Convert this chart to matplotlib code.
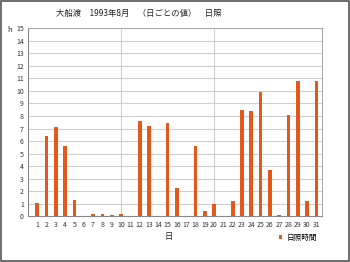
import numpy as np
import matplotlib as mpl
mpl.use('Agg')
import matplotlib.pyplot as plt
from matplotlib.patches import Rectangle

plt.rcParams['font.family'] = ['Noto Sans CJK JP', 'DejaVu Sans']

# 大船渡 1993年8月 日照時間 (h)
days = list(range(1, 32))
sunshine = [1.1, 6.4, 7.1, 5.6, 1.3, 0.0, 0.2, 0.2, 0.1, 0.2,
            0.0, 7.6, 7.2, 0.0, 7.4, 2.3, 0.0, 5.6, 0.4, 1.0,
            0.0, 1.2, 8.5, 8.4, 9.9, 3.7, 0.1, 8.1, 10.8, 1.2, 10.8]
yticks = list(range(0, 16))

bar_color = '#e4581c'
grid_color = '#cfcfcf'

fig = plt.figure(figsize=(3.5, 2.62), dpi=100)
ax = fig.add_axes([0.08, 0.174, 0.84, 0.719])

ax.bar(days, sunshine, width=0.4, color=bar_color, zorder=3, label='日照時間')

ax.set_xlim(0, 31.6)
ax.set_ylim(0, 15)
ax.set_yticks(yticks)
ax.set_xticks(days)
ax.tick_params(axis='both', length=0, labelsize=5, pad=3, colors='#333333')

for y in yticks[1:]:
    ax.axhline(y, color=grid_color, lw=0.8, zorder=1)
for x in (10, 20):
    ax.axvline(x, color=grid_color, lw=0.8, zorder=1)

for side in ('top', 'right'):
    ax.spines[side].set_color('#aaaaaa')
    ax.spines[side].set_linewidth(0.8)
for side in ('left', 'bottom'):
    ax.spines[side].set_color('#888888')
    ax.spines[side].set_linewidth(0.8)

fig.text(0.395, 0.947, '大船渡　1993年8月　（日ごとの値）　日照', ha='center',
         va='center', fontsize=6, color='#222222')
fig.text(0.02, 0.885, 'h', ha='left', va='center', fontsize=5.5, color='#222222')
fig.text(0.482, 0.098, '日', ha='center', va='center', fontsize=6, color='#222222')

leg = ax.legend(loc='upper right', bbox_to_anchor=(0.995, -0.075), frameon=False,
                fontsize=5.5, handlelength=0.45, handleheight=0.45,
                handletextpad=0.6, borderaxespad=0)

fig.patches.append(Rectangle((0.003, 0.004), 0.994, 0.992, transform=fig.transFigure,
                             fill=False, edgecolor='#555555', lw=1.2))

plt.savefig('out.png', dpi=100)
plt.close()
